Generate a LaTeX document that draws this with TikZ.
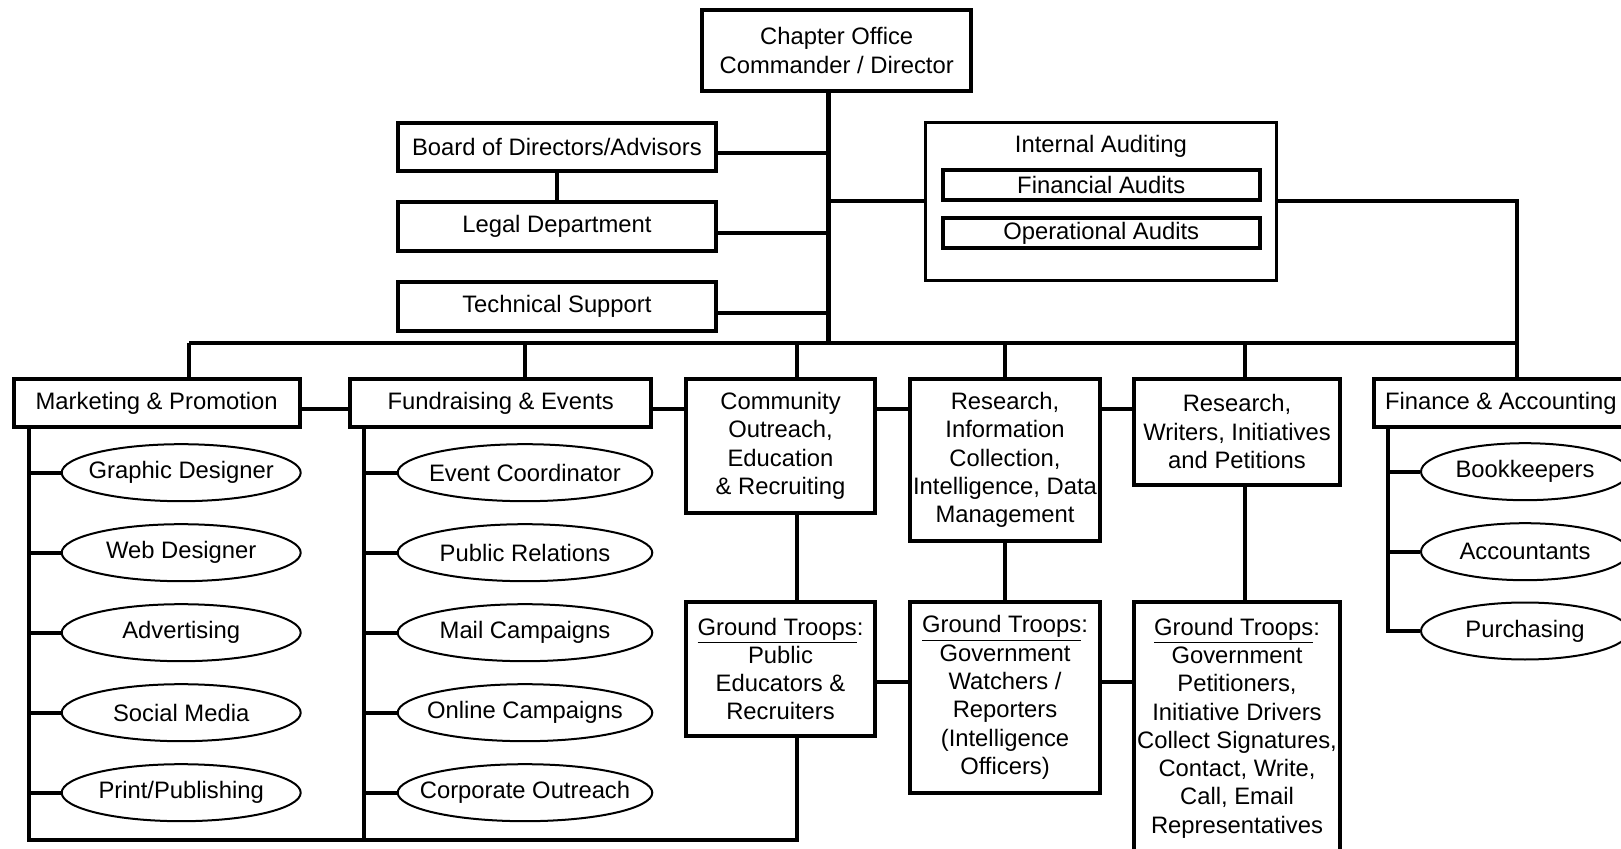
\documentclass[tikz,border=0pt]{standalone}
\usepackage{fontspec}
\setmainfont{Liberation Sans}
\usetikzlibrary{shapes.geometric}
\begin{document}
\begin{tikzpicture}[x=0.5pt,y=-0.5pt,
  every node/.style={font=\fontsize{11.9}{14.15}\selectfont, inner sep=0pt, align=center},
  box/.style={draw, line width=2pt, rectangle},
  thinbox/.style={draw, line width=1.5pt, rectangle},
  oval/.style={draw, line width=1pt, ellipse, minimum height=28.5pt, label=center:{#1}},
  conn/.style={line width=1.9pt},
  trunk/.style={line width=2.4pt},
]
\useasboundingbox (0,0) rectangle (1621,849);

% top
\node[box, minimum width=134.3pt, minimum height=40.2pt] (chap) at (836.7,50.5) {Chapter Office\\Commander / Director};
\node[box, minimum width=159pt, minimum height=24.3pt] (board) at (556.9,147) {Board of Directors/Advisors};
\node[box, minimum width=159pt, minimum height=24.3pt] (legal) at (556.9,226.7) {Legal Department};
\node[box, minimum width=159pt, minimum height=24.3pt] (tech) at (556.9,306.7) {Technical Support};

\node[thinbox, minimum width=175.5pt, minimum height=79pt] (audit) at (1100.9,201.2) {};
\node (audtitle) at (1100.9,146.7) {Internal Auditing};
\node[box, minimum width=158.5pt, minimum height=14.7pt] (finaud) at (1101.2,185) {Financial Audits};
\node[box, minimum width=158.5pt, minimum height=14.7pt] (opaud) at (1101.2,233) {Operational Audits};

% department row
\node[box, minimum width=143pt, minimum height=24.3pt] (mkt) at (156.7,403) {Marketing \& Promotion};
\node[box, minimum width=150.5pt, minimum height=24.3pt] (fund) at (500.8,403) {Fundraising \& Events};
\node[box, minimum width=94.5pt, minimum height=67.15pt] (comm) at (780.5,445.85) {Community\\Outreach,\\Education\\\& Recruiting};
\node[box, minimum width=95pt, minimum height=81pt] (resinfo) at (1005,460) {Research,\\Information\\Collection,\\Intelligence, Data\\Management};
\node[box, minimum width=102.7pt, minimum height=53pt] (reswr) at (1237,431.7) {Research,\\Writers, Initiatives\\and Petitions};
\node[box, minimum width=127pt, minimum height=24.3pt] (fin) at (1500.85,403) {Finance \& Accounting};

% ground troops
\node[box, minimum width=94.5pt, minimum height=67pt] (gt1) at (780.5,669) {\underline{Ground Troops}:\\Public\\Educators \&\\Recruiters};
\node[box, minimum width=95pt, minimum height=95.5pt] (gt2) at (1005,697.5) {\underline{Ground Troops}:\\Government\\Watchers /\\Reporters\\(Intelligence\\Officers)};
\node[box, minimum width=102.7pt, minimum height=126pt] (gt3) at (1237,728) {\underline{Ground Troops}:\\Government\\Petitioners,\\Initiative Drivers\\Collect Signatures,\\Contact, Write,\\Call, Email\\Representatives};

% children
\node[oval=Graphic Designer, minimum width=119.5pt] (m1) at (181.2,472.7) {};
\node[oval=Web Designer, minimum width=119.5pt] (m2) at (181.2,552.7) {};
\node[oval=Advertising, minimum width=119.5pt] (m3) at (181.2,632.7) {};
\node[oval=Social Media, minimum width=119.5pt] (m4) at (181.2,712.7) {};
\node[oval=Print/Publishing, minimum width=119.5pt] (m5) at (181.2,792.7) {};

\node[oval=Event Coordinator, minimum width=127.3pt] (f1) at (525,472.7) {};
\node[oval=Public Relations, minimum width=127.3pt] (f2) at (525,552.7) {};
\node[oval=Mail Campaigns, minimum width=127.3pt] (f3) at (525,632.7) {};
\node[oval=Online Campaigns, minimum width=127.3pt] (f4) at (525,712.7) {};
\node[oval=Corporate Outreach, minimum width=127.3pt] (f5) at (525,792.7) {};

\node[oval=Bookkeepers, minimum width=104pt] (a1) at (1525,471.7) {};
\node[oval=Accountants, minimum width=104pt] (a2) at (1525,551.7) {};
\node[oval=Purchasing, minimum width=104pt] (a3) at (1525,631) {};

% coordinates
\coordinate (T) at (828.8,343.3);
\coordinate (d1) at (189,343.3);
\coordinate (d2) at (525,343.3);
\coordinate (d3) at (796.7,343.3);
\coordinate (d4) at (1005,343.3);
\coordinate (d5) at (1245,343.3);
\coordinate (d6) at (1516.7,343.3);
\coordinate (row) at (0,409);
\coordinate (grow) at (0,681.7);
\coordinate (bot) at (0,840);
\coordinate (mx) at (29,0);
\coordinate (fx) at (364.3,0);
\coordinate (ax) at (1388.3,0);

% trunk and side boxes
\draw[trunk] (chap.south -| T) -- (T);
\draw[conn] ([yshift=-3pt]board.east) -- ([yshift=-3pt]board.east -| T);
\draw[conn] ([yshift=-3pt]legal.east) -- ([yshift=-3pt]legal.east -| T);
\draw[conn] ([yshift=-3pt]tech.east) -- ([yshift=-3pt]tech.east -| T);
\draw[conn] (board.south) -- (legal.north);
\draw[conn] (audit.west) -- (audit.west -| T);
\draw[conn] (audit.east) -- (audit.east -| d6) -- (d6) -- (fin.north -| d6);

% bus and drops
\draw[conn] (d1) -- (d6);
\draw[conn] (d1) -- (mkt.north -| d1);
\draw[conn] (d2) -- (fund.north -| d2);
\draw[conn] (d3) -- (comm.north -| d3);
\draw[conn] (d4) -- (resinfo.north -| d4);
\draw[conn] (d5) -- (reswr.north -| d5);

% row connectors
\draw[conn] (mkt.east |- row) -- (fund.west |- row);
\draw[conn] (fund.east |- row) -- (comm.west |- row);
\draw[conn] (comm.east |- row) -- (resinfo.west |- row);
\draw[conn] (resinfo.east |- row) -- (reswr.west |- row);

% research to ground troops
\draw[conn] (comm.south -| d3) -- (gt1.north -| d3);
\draw[conn] (resinfo.south) -- (gt2.north);
\draw[conn] (reswr.south -| d5) -- (gt3.north -| d5);
\draw[conn] (gt1.east |- grow) -- (gt2.west |- grow);
\draw[conn] (gt2.east |- grow) -- (gt3.west |- grow);

% children lines
\draw[conn] (mkt.south -| mx) -- (mx |- bot) -- (d3 |- bot) -- (gt1.south -| d3);
\draw[conn] (fund.south -| fx) -- (fx |- bot);
\draw[conn] (fin.south -| ax) -- (a3.west -| ax) -- (a3.west);
\foreach \n in {m1,m2,m3,m4,m5} \draw[conn] (\n.west -| mx) -- (\n.west);
\foreach \n in {f1,f2,f3,f4,f5} \draw[conn] (\n.west -| fx) -- (\n.west);
\foreach \n in {a1,a2} \draw[conn] (\n.west -| ax) -- (\n.west);
\end{tikzpicture}
\end{document}
